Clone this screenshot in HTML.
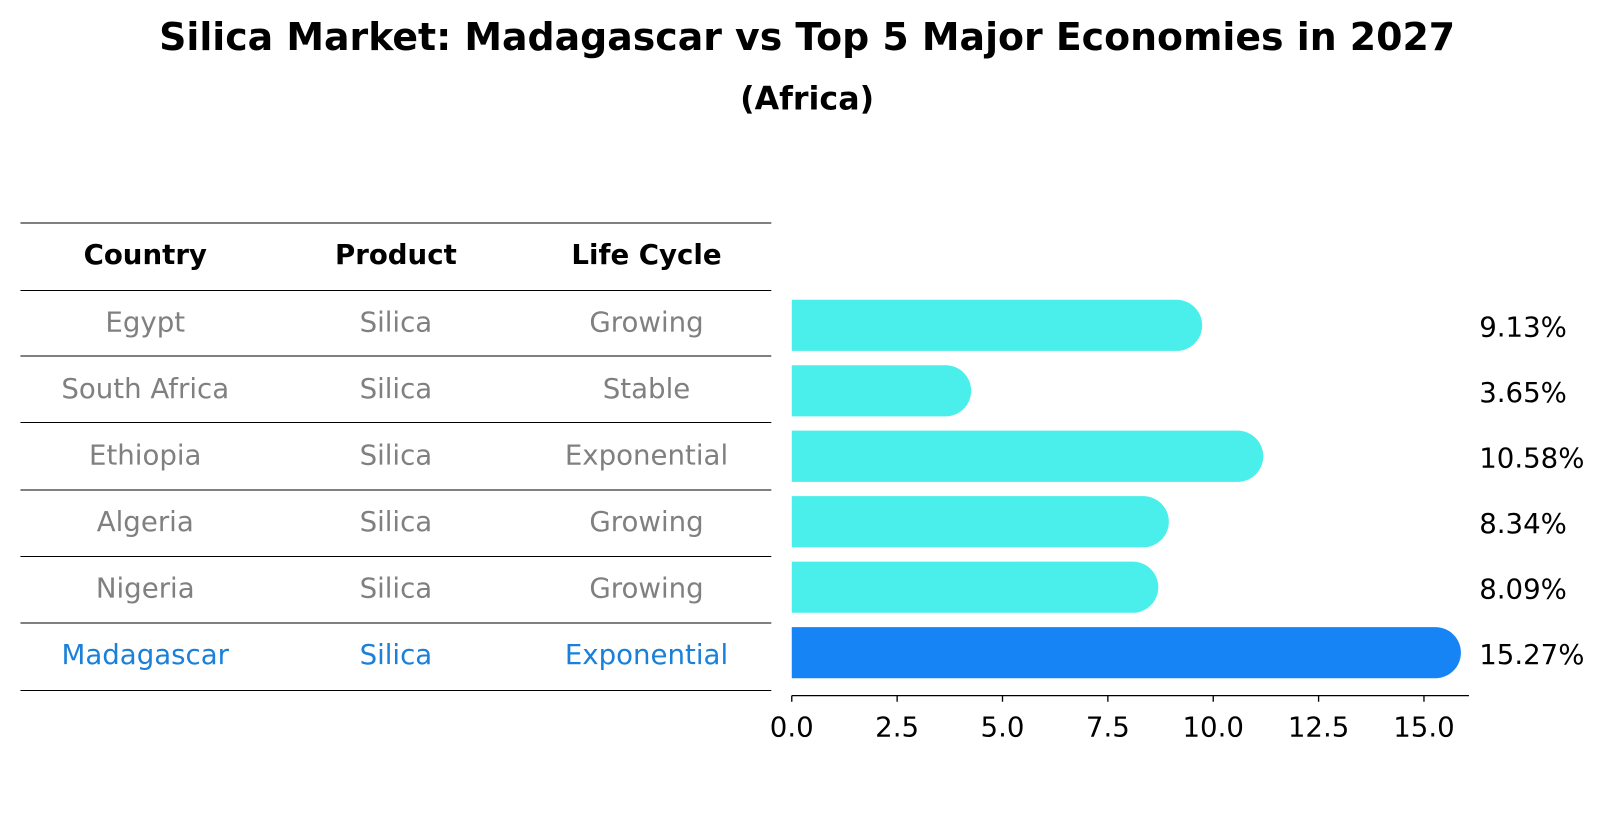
<!DOCTYPE html>
<html><head><meta charset="utf-8"><style>
body{margin:0;background:#fff;width:1604px;height:823px;overflow:hidden;font-family:"DejaVu Sans","Liberation Sans",sans-serif}
</style></head><body>
<svg width="1604" height="823" viewBox="0 0 1568 804.5" style="font-family:'DejaVu Sans','Liberation Sans',sans-serif">
<text x="789" y="49" text-anchor="middle" font-size="37" font-weight="bold">Silica Market: Madagascar vs Top 5 Major Economies in 2027</text>
<text x="789" y="107" text-anchor="middle" font-size="31" font-weight="bold">(Africa)</text>
<g id="table"></g>
<g id="bars"></g>
</svg>
<script>
const countries=["Egypt","South Africa","Ethiopia","Algeria","Nigeria","Madagascar"];
const products=["Silica","Silica","Silica","Silica","Silica","Silica"];
const lifeCycles=["Growing","Stable","Exponential","Growing","Growing","Exponential"];
const values=[9.13,3.65,10.58,8.34,8.09,15.27];
const ticks=[0,2.5,5,7.5,10,12.5,15];
const NS="http://www.w3.org/2000/svg";
function mk(t,a,p){const e=document.createElementNS(NS,t);for(const k in a)e.setAttribute(k,a[k]);p.appendChild(e);return e;}
const tb=document.getElementById('table'),bg=document.getElementById('bars');
const lines=[218,284,348,413,479,544,609,675];
lines.forEach(y=>{const l=mk('line',{x1:20,x2:754,y1:y,y2:y,stroke:'#000','stroke-width':1},tb);

});
const cx=[142,387,632];
["Country","Product","Life Cycle"].forEach((h,i)=>{const t=mk('text',{x:cx[i],y:258,'text-anchor':'middle','font-size':27,'font-weight':'bold'},tb);t.textContent=h;

});
const xs=v=>774+v*41.2;
const yc=i=>318+i*64;
countries.forEach((c,i)=>{
 const hl=i===countries.length-1;const col=hl?'#1a80d9':'#808080';
 [c,products[i],lifeCycles[i]].forEach((s,j)=>{const t=mk('text',{x:cx[j],y:324+i*65,'text-anchor':'middle','font-size':27,fill:col},tb);t.textContent=s;
 
 });
 const x0=xs(0),x1=xs(values[i])+25,y=yc(i),h=50,r=25;
 const p=mk('path',{d:`M${x0} ${y-h/2} H${x1-r} A${r} ${r} 0 0 1 ${x1-r} ${y+h/2} H${x0} Z`,fill:hl?'#1784f5':'#4aeeea'},bg);
 
 
 const t=mk('text',{x:1446,y:y+11,'font-size':27},bg);t.textContent=values[i].toFixed(2)+'%';
 
 
});
const ax=mk('line',{x1:774,x2:1436,y1:680,y2:680,stroke:'#000','stroke-width':1.3},bg);


ticks.forEach(v=>{const l=mk('line',{x1:xs(v),x2:xs(v),y1:680,y2:686,stroke:'#000','stroke-width':1.3},bg);


const t=mk('text',{x:xs(v),y:720,'text-anchor':'middle','font-size':27},bg);t.textContent=v.toFixed(1);

});
</script>
</body></html>
